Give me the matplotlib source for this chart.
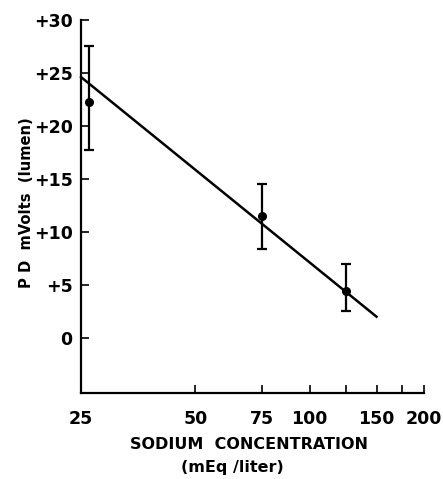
import matplotlib
matplotlib.use('Agg')
import matplotlib.pyplot as plt
from matplotlib.ticker import FixedLocator, NullLocator, NullFormatter

# sodium concentration (mEq/liter) and PD (mV, lumen)
conc = [26.3, 75, 125]
pd_mv = [22.3, 11.5, 4.4]
err_lo = [4.6, 3.1, 1.9]
err_hi = [5.2, 3.0, 2.6]

# fitted line
fit_x = [25, 150]
fit_y = [24.6, 2.0]

xticks = [50, 75, 100, 125, 150, 175, 200]
xlabels = ['25', '50', '75', '100', '150', '200']
xlabel_pos = [25, 50, 75, 100, 150, 200]
yticks = [0, 5, 10, 15, 20, 25, 30]
ylabels = ['0', '+5', '+10', '+15', '+20', '+25', '+30']

plt.rcParams['font.family'] = 'DejaVu Sans'
plt.rcParams['font.weight'] = 'bold'

fig = plt.figure(figsize=(4.43, 4.79), dpi=100)
ax = fig.add_axes([0.183, 0.1795, 0.774, 0.779])

ax.plot(fit_x, fit_y, color='black', lw=1.8, clip_on=False)
ax.errorbar(conc, pd_mv, yerr=[err_lo, err_hi], fmt='o', color='black',
            ms=5.5, elinewidth=1.6, capsize=3.5, capthick=1.6, clip_on=False)

ax.set_xscale('log')
ax.set_xlim(25, 200)
ax.set_ylim(-5.2, 30)

ax.xaxis.set_major_locator(FixedLocator(xticks))
ax.xaxis.set_minor_locator(NullLocator())
ax.xaxis.set_major_formatter(NullFormatter())
ax.xaxis.set_minor_formatter(NullFormatter())
for v, s in zip(xlabel_pos, xlabels):
    ax.text(v, -0.045, s, transform=ax.get_xaxis_transform(), ha='center',
            va='top', fontsize=12.5, fontweight='bold')

ax.set_yticks(yticks)
ax.set_yticklabels(ylabels, fontsize=12.5, fontweight='bold')

ax.tick_params(axis='x', direction='in', length=6, width=1.2)
ax.tick_params(axis='y', direction='in', length=6, width=1.2, pad=6)

for s in ['top', 'right']:
    ax.spines[s].set_visible(False)
for s in ['left', 'bottom']:
    ax.spines[s].set_linewidth(1.6)

fig.text(0.562, 0.0716, 'SODIUM  CONCENTRATION', ha='center', va='center',
         fontsize=11.5, fontweight='bold')
fig.text(0.525, 0.008, '(mEq /liter)', ha='center', va='bottom',
         fontsize=11.5, fontweight='bold')
fig.text(0.0587, 0.578, 'P D  mVolts  (lumen)', ha='center', va='center',
         rotation=90, fontsize=10.6, fontweight='bold')

plt.savefig('out.png', dpi=100)
